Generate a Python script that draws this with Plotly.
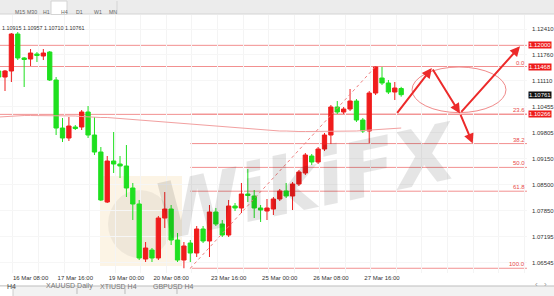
import plotly.graph_objects as go

# ---------------- data ----------------
candle_idx = list(range(64))
open_ = [1.11355, 1.11204, 1.11355, 1.12284, 1.11682, 1.11656, 1.11782, 1.11732, 1.11832, 1.11129,
         1.09923, 1.09672, 1.09948, 1.09948, 1.10325, 1.09747, 1.09320, 1.08064, 1.09094, 1.09019,
         1.08969, 1.08416, 1.08014, 1.06632, 1.06858, 1.06658, 1.07662, 1.07888, 1.07110, 1.06607,
         1.07034, 1.06783, 1.07386, 1.07085, 1.07813, 1.07512, 1.07235, 1.07964, 1.07914, 1.08265,
         1.08215, 1.07914, 1.07838, 1.07888, 1.08140, 1.08341, 1.08215, 1.08516, 1.08793, 1.09220,
         1.09069, 1.09396, 1.09747, 1.10451, 1.10325, 1.10400, 1.10601, 1.10124, 1.09848, 1.10802,
         1.11179, 1.11054, 1.10827, 1.10915]
high = [1.11405, 1.11380, 1.12310, 1.12335, 1.11707, 1.11908, 1.11832, 1.11908, 1.11857, 1.11204,
        1.10174, 1.10199, 1.09998, 1.10375, 1.10476, 1.10199, 1.09446, 1.09220, 1.09823, 1.09220,
        1.09496, 1.08542, 1.08115, 1.07059, 1.06909, 1.07713, 1.08315, 1.07989, 1.07286, 1.07059,
        1.07110, 1.07461, 1.07461, 1.07989, 1.07914, 1.07612, 1.08115, 1.08039, 1.08542, 1.08893,
        1.08366, 1.07989, 1.08140, 1.08190, 1.08391, 1.08542, 1.08567, 1.08868, 1.09295, 1.09270,
        1.09446, 1.09798, 1.10501, 1.10601, 1.10451, 1.10903, 1.10652, 1.10174, 1.10853, 1.11468,
        1.11456, 1.11129, 1.11079, 1.10957]
low = [1.11179, 1.10853, 1.11079, 1.11631, 1.10953, 1.11481, 1.11581, 1.11631, 1.11104, 1.09747,
       1.09571, 1.09597, 1.09873, 1.09873, 1.09672, 1.09245, 1.08089, 1.08039, 1.08793, 1.08667,
       1.08190, 1.07612, 1.06607, 1.06557, 1.06557, 1.06607, 1.07411, 1.06984, 1.06557, 1.06400,
       1.06557, 1.06683, 1.07034, 1.06683, 1.07461, 1.07185, 1.07185, 1.07838, 1.07788, 1.08064,
       1.07662, 1.07562, 1.07612, 1.07738, 1.08089, 1.08165, 1.07863, 1.08466, 1.08743, 1.08994,
       1.09019, 1.09345, 1.09521, 1.10275, 1.10275, 1.10350, 1.10074, 1.09798, 1.09546, 1.10752,
       1.11003, 1.10777, 1.10627, 1.10710]
close = [1.11204, 1.11355, 1.12284, 1.11682, 1.11644, 1.11807, 1.11744, 1.11807, 1.11129, 1.09923,
         1.09672, 1.09973, 1.09911, 1.10325, 1.09747, 1.09320, 1.08115, 1.09094, 1.09019, 1.08969,
         1.08416, 1.08014, 1.06658, 1.06909, 1.06658, 1.07662, 1.07888, 1.07110, 1.06607, 1.06959,
         1.06783, 1.07386, 1.07085, 1.07813, 1.07512, 1.07235, 1.07964, 1.07914, 1.08265, 1.08228,
         1.07914, 1.07863, 1.07914, 1.08140, 1.08341, 1.08215, 1.08516, 1.08818, 1.09245, 1.09069,
         1.09396, 1.09747, 1.10451, 1.10325, 1.10400, 1.10601, 1.10124, 1.09848, 1.10802, 1.11456,
         1.11054, 1.10827, 1.10928, 1.10761]
moving_avg = [1.10199, 1.10212, 1.10225, 1.10237, 1.10237, 1.10237, 1.10237, 1.10237, 1.10237, 1.10237,
              1.10237, 1.10225, 1.10225, 1.10212, 1.10199, 1.10199, 1.10187, 1.10187, 1.10174, 1.10162,
              1.10149, 1.10137, 1.10124, 1.10112, 1.10099, 1.10086, 1.10074, 1.10061, 1.10049, 1.10036,
              1.10024, 1.10011, 1.09998, 1.09986, 1.09973, 1.09961, 1.09948, 1.09936, 1.09923, 1.09911,
              1.09898, 1.09885, 1.09873, 1.09860, 1.09848, 1.09848, 1.09835, 1.09835, 1.09835, 1.09835,
              1.09835, 1.09835, 1.09835, 1.09835, 1.09848, 1.09848, 1.09848, 1.09860, 1.09873, 1.09885,
              1.09898, 1.09898, 1.09911, 1.09923]

x_tick_idx = [5, 12, 20, 27, 36, 44, 52, 60]
x_tick_text = ["16 Mar 08:00", "17 Mar 16:00", "19 Mar 00:00", "20 Mar 08:00",
               "23 Mar 16:00", "25 Mar 00:00", "26 Mar 08:00", "27 Mar 16:00"]
y_tick_vals = [1.06545, 1.07195, 1.07850, 1.08500, 1.09150, 1.09805, 1.10455, 1.11110, 1.11760, 1.12410]
y_tick_text = ["1.06545", "1.07195", "1.07850", "1.08500", "1.09150", "1.09805",
               "1.10455", "1.11110", "1.11760", "1.12410"]

level_lines = [1.12000, 1.11468, 1.10266]
level_labels = ["1.12000", "1.11468", "1.10266"]
current_label = "1.10761"

fib_ratios = [0.0, 23.6, 38.2, 50.0, 61.8, 100.0]
fib_low_idx, fib_high_idx = 30, 59
fib_low, fib_high = 1.06400, 1.11468

# hand drawings (candle index, price)
arrows = [(62.2, 1.10266, 67.8, 1.11430),
          (67.8, 1.11430, 72.2, 1.10290),
          (72.2, 1.10290, 81.6, 1.11975),
          (72.2, 1.10290, 74.2, 1.09532)]
ellipse = (64.7, 1.10310, 79.4, 1.11456)

timeframes = ["M15", "M30", "H1", "H4", "D1", "W1", "MN"]
tabs = ["XAUUSD Daily", "XTIUSD H4", "GBPUSD H4"]

# ---------------- layout helpers ----------------
W, H = 554, 296
ML, MR, MT, MB = 0, 27, 15, 23
PW, PH = W - ML - MR, H - MT - MB
X_MIN, X_MAX = 0.2175, 82.69
Y_MIN, Y_MAX = 1.06281, 1.12762

def px(x):
    return (x - ML) / PW

def py(y):
    return (H - MB - y) / PH

RED = "#f01c1c"
GREEN = "#1fe01f"
LINE_RED = "#f29090"
FONT = "Liberation Sans"

fig = go.Figure()

fig.add_trace(go.Scatter(x=candle_idx, y=moving_avg, mode="lines",
                         line=dict(color="#f2a0a0", width=1), hoverinfo="skip"))

fig.add_trace(go.Candlestick(
    x=candle_idx, open=open_, high=high, low=low, close=close,
    increasing=dict(line=dict(color=RED, width=1), fillcolor=RED),
    decreasing=dict(line=dict(color=GREEN, width=1), fillcolor=GREEN),
    whiskerwidth=0,
))

shapes = []
annotations = []

# watermark logo block
shapes.append(dict(type="rect", xref="paper", yref="paper", x0=px(100), x1=px(182),
                   y0=py(266), y1=py(176), fillcolor="rgba(245,210,150,0.25)",
                   line=dict(width=0), layer="below"))
shapes.append(dict(type="circle", xref="paper", yref="paper", x0=px(108), x1=px(172),
                   y0=py(258), y1=py(190), fillcolor="rgba(0,0,0,0.05)",
                   line=dict(width=0), layer="below"))
annotations.append(dict(text="<b><i>WikiFX</i></b>", xref="paper", yref="paper",
                        x=px(306), y=py(182), showarrow=False, textangle=-12,
                        font=dict(size=78, color="rgba(0,0,0,0.10)", family="DejaVu Sans")))

# full width horizontal levels
for lv in level_lines:
    shapes.append(dict(type="line", xref="paper", yref="y", x0=0, x1=1, y0=lv, y1=lv,
                       line=dict(color=LINE_RED, width=1), layer="below"))

# fibonacci
for r in fib_ratios:
    lv = fib_high - r / 100.0 * (fib_high - fib_low)
    shapes.append(dict(type="line", xref="x", yref="y", x0=fib_low_idx, x1=X_MAX, y0=lv, y1=lv,
                       line=dict(color=LINE_RED, width=1), layer="below"))
    annotations.append(dict(text=f"{r:.1f}", xref="paper", yref="y", x=1, y=lv,
                            xanchor="right", yanchor="bottom", showarrow=False,
                            font=dict(size=6, color="#e84a4a", family=FONT), yshift=-1))
shapes.append(dict(type="line", xref="x", yref="y", x0=fib_low_idx, y0=fib_low,
                   x1=fib_high_idx, y1=fib_high, line=dict(color="#f08080", width=1, dash="dot")))

# ellipse
shapes.append(dict(type="circle", xref="x", yref="y", x0=ellipse[0], y0=ellipse[1],
                   x1=ellipse[2], y1=ellipse[3], line=dict(color="#f08a8a", width=1)))

# arrows
for (x0, y0, x1, y1) in arrows:
    annotations.append(dict(x=x1, y=y1, ax=x0, ay=y0, xref="x", yref="y", axref="x", ayref="y",
                            text="", showarrow=True, arrowhead=2, arrowsize=1, arrowwidth=2,
                            arrowcolor="#ec2a2a", standoff=0, startstandoff=0))

# right axis price boxes
for lv, txt in zip(level_lines, level_labels):
    annotations.append(dict(text=txt, xref="paper", yref="y", x=1, y=lv, xanchor="left",
                            yanchor="middle", showarrow=False, bgcolor="#ee1c1c", borderpad=0,
                            xshift=1, font=dict(size=6, color="white", family=FONT)))
annotations.append(dict(text=current_label, xref="paper", yref="y", x=1, y=close[-1],
                        xanchor="left", yanchor="middle", showarrow=False, bgcolor="#111111",
                        borderpad=0, xshift=1, font=dict(size=6, color="white", family=FONT)))

# top toolbar
shapes.append(dict(type="rect", xref="paper", yref="paper", x0=px(0), x1=px(W), y0=py(14), y1=py(0),
                   fillcolor="#ececec", line=dict(width=0), layer="above"))
shapes.append(dict(type="line", xref="paper", yref="paper", x0=px(0), x1=px(W), y0=py(14), y1=py(14),
                   line=dict(color="#d4d4d4", width=1), layer="above"))
shapes.append(dict(type="rect", xref="paper", yref="paper", x0=px(51), x1=px(67), y0=py(14.5), y1=py(1),
                   fillcolor="white", line=dict(color="#d4d4d4", width=1), layer="above"))
shapes.append(dict(type="line", xref="paper", yref="paper", x0=px(117), x1=px(117), y0=py(14), y1=py(1),
                   line=dict(color="#d4d4d4", width=1), layer="above"))
tf_x = [12.5, 24.5, 41, 58.5, 74, 91.5, 107]
for t, xx in zip(timeframes, tf_x):
    annotations.append(dict(text=t, xref="paper", yref="paper", x=px(xx), y=py(7.5), showarrow=False,
                            font=dict(size=5.2, color="#666666", family=FONT)))

annotations.append(dict(text=f"{open_[-1]:.5f} {high[-1]:.5f} {low[-1]:.5f} {close[-1]:.5f}",
                        xref="paper", yref="paper", x=px(0), y=py(23.5), xanchor="left",
                        showarrow=False, font=dict(size=5.4, color="#333333", family=FONT)))

# bottom tab bar
shapes.append(dict(type="rect", xref="paper", yref="paper", x0=px(0), x1=px(W), y0=py(H), y1=py(286),
                   fillcolor="#f2f2f2", line=dict(width=0), layer="above"))
shapes.append(dict(type="line", xref="paper", yref="paper", x0=px(0), x1=px(W), y0=py(286), y1=py(286),
                   line=dict(color="#bdbdbd", width=1), layer="above"))
shapes.append(dict(type="rect", xref="paper", yref="paper", x0=px(-2), x1=px(13), y0=py(H + 1), y1=py(286),
                   fillcolor="white", line=dict(color="#cccccc", width=1), layer="above"))
annotations.append(dict(text="H4", xref="paper", yref="paper", x=px(5), y=py(291.5), showarrow=False,
                        font=dict(size=7, color="#444444", family=FONT)))
tab_x = [44, 98, 151]
for t, xx in zip(tabs, tab_x):
    annotations.append(dict(text=t, xref="paper", yref="paper", x=px(xx), y=py(291.5), showarrow=False,
                            font=dict(size=7, color="#777777", family=FONT)))
for sx in [77, 125, 177]:
    shapes.append(dict(type="line", xref="paper", yref="paper", x0=px(sx), x1=px(sx), y0=py(294),
                       y1=py(288), line=dict(color="#bbbbbb", width=1), layer="above"))
for t, xx in [("‹", 540), ("›", 549)]:
    annotations.append(dict(text=t, xref="paper", yref="paper", x=px(xx), y=py(291), showarrow=False,
                            font=dict(size=8, color="#999999", family=FONT)))

fig.update_layout(
    width=W, height=H, margin=dict(l=ML, r=MR, t=MT, b=MB),
    paper_bgcolor="white", plot_bgcolor="white", showlegend=False,
    boxgap=0.33, boxgroupgap=0,
    shapes=shapes, annotations=annotations,
    xaxis=dict(range=[X_MIN, X_MAX], tickmode="array", tickvals=x_tick_idx, ticktext=x_tick_text,
               showgrid=False, zeroline=False, showline=False, ticks="",
               tickfont=dict(size=6, color="#333333", family=FONT),
               rangeslider=dict(visible=False),
               minor=dict(tick0=2.25, dtick=4, showgrid=True, gridcolor="#f4f4f4", gridwidth=1)),
    yaxis=dict(range=[Y_MIN, Y_MAX], side="right", tickmode="array", tickvals=y_tick_vals,
               ticktext=y_tick_text, showgrid=True, gridcolor="#f6f6f6", zeroline=False,
               showline=False, ticks="", ticklabelstandoff=4,
               tickfont=dict(size=6, color="#333333", family=FONT)),
)

fig.write_html("out.html")
